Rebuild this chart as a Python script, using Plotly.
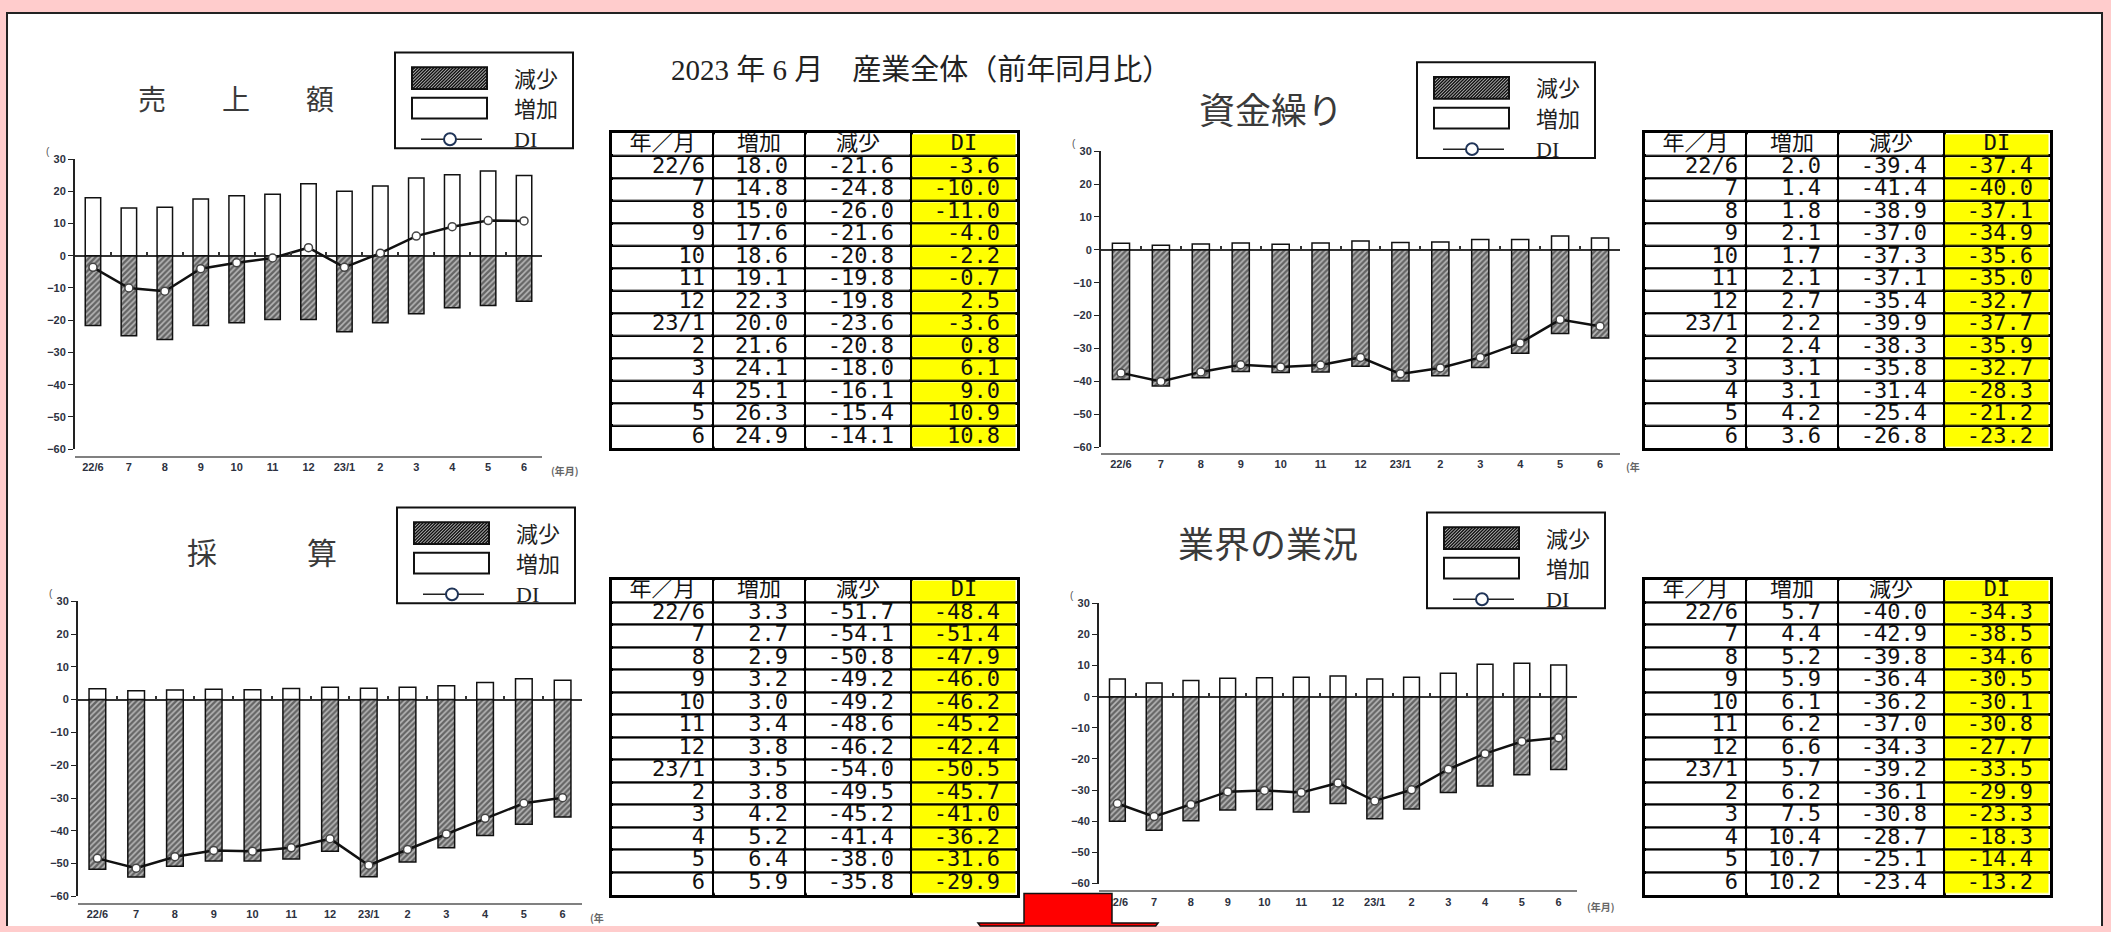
import plotly.graph_objects as go

W, H = 2111, 932

# ---------------- data ----------------
months = ["22/6", "7", "8", "9", "10", "11", "12", "23/1", "2", "3", "4", "5", "6"]

sales_inc = [18.0, 14.8, 15.0, 17.6, 18.6, 19.1, 22.3, 20.0, 21.6, 24.1, 25.1, 26.3, 24.9]
sales_dec = [-21.6, -24.8, -26.0, -21.6, -20.8, -19.8, -19.8, -23.6, -20.8, -18.0, -16.1, -15.4, -14.1]
sales_di = [-3.6, -10.0, -11.0, -4.0, -2.2, -0.7, 2.5, -3.6, 0.8, 6.1, 9.0, 10.9, 10.8]

cash_inc = [2.0, 1.4, 1.8, 2.1, 1.7, 2.1, 2.7, 2.2, 2.4, 3.1, 3.1, 4.2, 3.6]
cash_dec = [-39.4, -41.4, -38.9, -37.0, -37.3, -37.1, -35.4, -39.9, -38.3, -35.8, -31.4, -25.4, -26.8]
cash_di = [-37.4, -40.0, -37.1, -34.9, -35.6, -35.0, -32.7, -37.7, -35.9, -32.7, -28.3, -21.2, -23.2]

profit_inc = [3.3, 2.7, 2.9, 3.2, 3.0, 3.4, 3.8, 3.5, 3.8, 4.2, 5.2, 6.4, 5.9]
profit_dec = [-51.7, -54.1, -50.8, -49.2, -49.2, -48.6, -46.2, -54.0, -49.5, -45.2, -41.4, -38.0, -35.8]
profit_di = [-48.4, -51.4, -47.9, -46.0, -46.2, -45.2, -42.4, -50.5, -45.7, -41.0, -36.2, -31.6, -29.9]

biz_inc = [5.7, 4.4, 5.2, 5.9, 6.1, 6.2, 6.6, 5.7, 6.2, 7.5, 10.4, 10.7, 10.2]
biz_dec = [-40.0, -42.9, -39.8, -36.4, -36.2, -37.0, -34.3, -39.2, -36.1, -30.8, -28.7, -25.1, -23.4]
biz_di = [-34.3, -38.5, -34.6, -30.5, -30.1, -30.8, -27.7, -33.5, -29.9, -23.3, -18.3, -14.4, -13.2]

main_title = "2023 年 6 月　産業全体（前年同月比）"
chart_titles = ["売　　上　　額", "資金繰り", "採　　　算", "業界の業況"]
table_header = ["年／月", "増加", "減少", "DI"]
legend_labels = ["減少", "増加", "DI"]
y_ticks = [30, 20, 10, 0, -10, -20, -30, -40, -50, -60]
unit_labels = ["(年月)", "(年", "(年", "(年月)"]

# ---------------- layout helpers (pixel -> paper) ----------------
def fx(x):
    return x / W

def fy(y):
    return 1 - y / H

charts = [
    dict(inc=sales_inc, dec=sales_dec, di=sales_di, x0=75, x1=542, y30=155, ym60=449, ybot=457,
         title_xy=(236, 93), title_size=28, leg=(395, 47), tab=(612, 129), unit_xy=(565, 471)),
    dict(inc=cash_inc, dec=cash_dec, di=cash_di, x0=1101, x1=1620, y30=147, ym60=447, ybot=454,
         title_xy=(1271, 103), title_size=36, leg=(1417, 57), tab=(1645, 129), unit_xy=(1633, 467)),
    dict(inc=profit_inc, dec=profit_dec, di=profit_di, x0=78, x1=582, y30=603, ym60=902, ybot=910,
         title_xy=(262, 552), title_size=30, leg=(397, 508), tab=(612, 581), unit_xy=(597, 923)),
    dict(inc=biz_inc, dec=biz_dec, di=biz_di, x0=1099, x1=1577, y30=605, ym60=889, ybot=897,
         title_xy=(1268, 543), title_size=36, leg=(1427, 513), tab=(1645, 581), unit_xy=(1601, 912)),
]

TICK_FONT = dict(family="Liberation Sans, Arial", size=11, color="#2d3140", weight="bold")
CJK = "Noto Sans CJK JP"
SERIF_CJK = "Liberation Serif, Noto Sans CJK JP"
TABLE_FONT = dict(family="DejaVu Sans Mono, Noto Sans CJK JP", size=22, color="#111")
HATCH = dict(shape="/", fgcolor="#111111", bgcolor="#b8b8b8", size=4, solidity=0.6)

col_edges = [0, 101, 193, 299, 405]    # table column boundaries (px)
col_pad = [8, 17, 17, 17]              # right padding of cell text (px)
ROW_H = 22.8
N_ROWS = len(months) + 1

fig = go.Figure()
layout = dict(
    width=W, height=H, autosize=False,
    margin=dict(l=0, r=0, t=0, b=0),
    paper_bgcolor="#FFCCCC", plot_bgcolor="rgba(0,0,0,0)",
    barmode="overlay", showlegend=False,
)
shapes = []
annotations = []

def ppath(pts, close=True):
    s = "M" + " L".join("%.5f,%.5f" % (fx(x), fy(y)) for x, y in pts)
    return s + (" Z" if close else "")

# white panel (open at the bottom, stays inside the page)
shapes.append(dict(type="path", xref="paper", yref="paper",
                   path=ppath([(7, 932), (7, 7), (2102, 7), (2102, 932)], close=False),
                   fillcolor="white", line=dict(color="#222", width=2), layer="below"))

annotations.append(dict(text=main_title, xref="paper", yref="paper", x=fx(669), y=fy(65),
                        xanchor="left", yanchor="middle", showarrow=False,
                        font=dict(family=SERIF_CJK, size=29, color="#222")))

for i, c in enumerate(charts, start=1):
    sfx = "" if i == 1 else str(i)
    xa, ya = "x" + sfx, "y" + sfx
    per10 = (c["ym60"] - c["y30"]) / 9.0
    yzero = c["y30"] + 3 * per10

    fig.add_trace(go.Bar(x=months, y=c["dec"], xaxis=xa, yaxis=ya, width=0.43, name="減少",
                         marker=dict(color="white", line=dict(color="#111", width=1.5), pattern=HATCH)))
    fig.add_trace(go.Bar(x=months, y=c["inc"], xaxis=xa, yaxis=ya, width=0.43, name="増加",
                         marker=dict(color="white", line=dict(color="#111", width=1.5))))
    fig.add_trace(go.Scatter(x=months, y=c["di"], xaxis=xa, yaxis=ya, mode="lines+markers", name="DI",
                             line=dict(color="#111", width=2.5), cliponaxis=False,
                             marker=dict(symbol="circle", size=8, color="white",
                                         line=dict(color="#444", width=1.5))))

    layout["xaxis" + sfx] = dict(domain=[fx(c["x0"]), fx(c["x1"])], anchor="free", position=fy(c["ybot"]),
                                 type="category", range=[-0.5, 12.5], showline=True,
                                 linecolor="#808080", linewidth=2, ticks="", showgrid=False,
                                 zeroline=False, tickfont=TICK_FONT, fixedrange=True)
    layout["yaxis" + sfx] = dict(domain=[fy(c["ym60"]), fy(c["y30"])], anchor=xa, range=[-60, 30],
                                 tickvals=y_ticks, showline=True, linecolor="#222", linewidth=2,
                                 ticks="outside", ticklen=5, tickcolor="#222", showgrid=False,
                                 zeroline=True, zerolinecolor="#333", zerolinewidth=2,
                                 tickfont=TICK_FONT, fixedrange=True)
    # small ticks on the zero line between categories (overlay axis)
    ox = "x%d" % (4 + i)
    layout["xaxis" + str(4 + i)] = dict(overlaying=xa, anchor="free", position=fy(yzero), type="linear",
                                        range=[-0.5, 12.5], tickvals=[k + 0.5 for k in range(12)],
                                        ticks="inside", ticklen=4, tickwidth=1.5, tickcolor="#333",
                                        showticklabels=False, showline=False, showgrid=False,
                                        zeroline=False, fixedrange=True)
    fig.add_trace(go.Scatter(x=[None], y=[None], xaxis=ox, yaxis=ya, mode="markers",
                             hoverinfo="skip", showlegend=False))

    # chart title
    tx, ty = c["title_xy"]
    annotations.append(dict(text=chart_titles[i - 1], xref="paper", yref="paper", x=fx(tx), y=fy(ty),
                            xanchor="center", yanchor="middle", showarrow=False,
                            font=dict(family=CJK, size=c["title_size"], color="#3a3a3a")))
    # unit marks
    annotations.append(dict(text="(", xref="paper", yref="paper", x=fx(c["x0"] - 27), y=fy(c["y30"] - 8),
                            xanchor="center", yanchor="middle", showarrow=False,
                            font=dict(family="Liberation Sans", size=10, color="#555")))
    ux, uy = c["unit_xy"]
    annotations.append(dict(text=unit_labels[i - 1], xref="paper", yref="paper", x=fx(ux), y=fy(uy),
                            xanchor="center", yanchor="middle", showarrow=False,
                            font=dict(family=CJK, size=10, color="#666", weight="bold")))

    # legend box (decoration)
    L, T = c["leg"]
    shapes.append(dict(type="rect", xref="paper", yref="paper", x0=fx(L), x1=fx(L + 178),
                       y0=fy(T + 97), y1=fy(T), fillcolor="white", line=dict(color="#111", width=2)))
    hx0, hx1, hy0, hy1 = L + 17, L + 92, T + 15, T + 37
    h = hy1 - hy0
    segs = []
    a = hx0 - h
    while a < hx1:
        s0 = max(0.0, (hx0 - a) / h)
        s1 = min(1.0, (hx1 - a) / h)
        if s1 > s0:
            segs.append("M%.5f,%.5f L%.5f,%.5f" % (fx(a + s0 * h), fy(hy1 - s0 * h),
                                                   fx(a + s1 * h), fy(hy1 - s1 * h)))
        a += 3.2
    shapes.append(dict(type="rect", xref="paper", yref="paper", x0=fx(hx0), x1=fx(hx1),
                       y0=fy(hy1), y1=fy(hy0), fillcolor="#b8b8b8", line=dict(width=0)))
    shapes.append(dict(type="path", xref="paper", yref="paper", path=" ".join(segs),
                       line=dict(color="#111", width=1.4)))
    shapes.append(dict(type="rect", xref="paper", yref="paper", x0=fx(hx0), x1=fx(hx1),
                       y0=fy(hy1), y1=fy(hy0), line=dict(color="#111", width=2)))
    shapes.append(dict(type="rect", xref="paper", yref="paper", x0=fx(L + 17), x1=fx(L + 92),
                       y0=fy(T + 67), y1=fy(T + 46), fillcolor="white", line=dict(color="#111", width=2)))
    shapes.append(dict(type="line", xref="paper", yref="paper", x0=fx(L + 26), x1=fx(L + 87),
                       y0=fy(T + 88), y1=fy(T + 88), line=dict(color="#222", width=1.5)))
    shapes.append(dict(type="circle", xref="paper", yref="paper", x0=fx(L + 49), x1=fx(L + 61),
                       y0=fy(T + 94), y1=fy(T + 82), fillcolor="white", line=dict(color="#1f3458", width=2)))
    for lab, yy in zip(legend_labels, [T + 27, T + 58, T + 88]):
        annotations.append(dict(text=lab, xref="paper", yref="paper", x=fx(L + 117), y=fy(yy),
                                xanchor="left", yanchor="middle", showarrow=False,
                                font=dict(family=SERIF_CJK, size=22, color="#222")))

    # ---------- data table as a cartesian grid ----------
    n = 8 + i
    txa, tya = "x%d" % n, "y%d" % n
    tx0, ty0 = c["tab"]
    tw = col_edges[-1]
    th = ROW_H * N_ROWS
    fig.add_trace(go.Heatmap(
        x=col_edges, y=list(range(N_ROWS + 1)),
        z=[[0, 0, 0, 1] for _ in range(N_ROWS)],
        colorscale=[[0, "white"], [1, "#FFFF00"]], zmin=0, zmax=1, showscale=False,
        xgap=2.5, ygap=2.5, hoverinfo="skip", xaxis=txa, yaxis=tya))
    # header
    fig.add_trace(go.Scatter(
        x=[(col_edges[k] + col_edges[k + 1]) / 2 for k in range(4)], y=[0.5] * 4,
        text=table_header, mode="text", textposition="middle center",
        textfont=TABLE_FONT, hoverinfo="skip", xaxis=txa, yaxis=tya))
    # body columns
    body_cols = [months,
                 ["%.1f" % v for v in c["inc"]],
                 ["%.1f" % v for v in c["dec"]],
                 ["%.1f" % v for v in c["di"]]]
    for k, col in enumerate(body_cols):
        fig.add_trace(go.Scatter(
            x=[col_edges[k + 1] - col_pad[k]] * len(col), y=[r + 1.5 for r in range(len(col))],
            text=col, mode="text", textposition="middle left",
            textfont=TABLE_FONT, hoverinfo="skip", xaxis=txa, yaxis=tya))
    grid = dict(showgrid=True, gridcolor="black", gridwidth=2.5, showticklabels=False, ticks="",
                zeroline=False, showline=True, mirror=True, linecolor="black", linewidth=2.5,
                fixedrange=True)
    layout["xaxis%d" % n] = dict(domain=[fx(tx0), fx(tx0 + tw)], anchor=tya, range=[0, tw],
                                 tickvals=col_edges, **grid)
    layout["yaxis%d" % n] = dict(domain=[fy(ty0 + th), fy(ty0)], anchor=txa, range=[N_ROWS, 0],
                                 tickvals=list(range(N_ROWS + 1)), **grid)

# red arrow at the bottom (decoration, cut off by the page edge like the reference)
arrow_pts = [(1024, 899), (1112, 899), (1112, 929), (1158, 929), (1155.7, 932),
             (980.3, 932), (978, 929), (1024, 929)]
shapes.append(dict(type="path", xref="paper", yref="paper", path=ppath(arrow_pts), fillcolor="#FF0000",
                   line=dict(color="#111", width=1.5)))

layout["shapes"] = shapes
layout["annotations"] = annotations
fig.update_layout(**layout)
fig.write_html(
    "out.html",
    config={"displayModeBar": False},
    post_script=(
        "document.documentElement.style.margin='0';"
        "document.documentElement.style.overflow='hidden';"
        "document.body.style.margin='0';"
        "document.body.style.overflow='hidden';"
        "var gd=document.getElementById('{plot_id}');"
        "gd.style.position='absolute';gd.style.left='0px';gd.style.top='0px';"
        "gd.style.overflow='hidden';gd.style.width='2111px';gd.style.height='932px';"
        "document.querySelectorAll('svg.main-svg').forEach(function(s){s.style.overflow='hidden';});"
    ),
)
